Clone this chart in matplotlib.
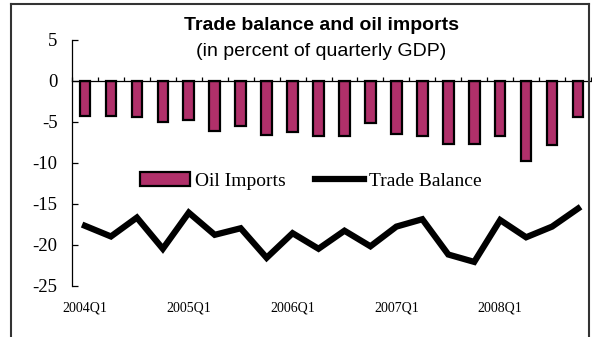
"""Trade balance and oil imports, quarterly, in percent of GDP."""

import matplotlib
matplotlib.use("Agg")
import matplotlib.pyplot as plt
import matplotlib.transforms as mtransforms
from matplotlib.lines import Line2D
import numpy as np

QUARTERS = [f"{y}Q{q}" for y in range(2004, 2009) for q in range(1, 5)]
OIL_IMPORTS = [-4.3, -4.3, -4.4, -5.0, -4.8, -6.2, -5.5, -6.6, -6.3, -6.8,
               -6.8, -5.2, -6.5, -6.7, -7.7, -7.7, -6.8, -9.8, -7.9, -4.5]
TRADE_BALANCE = [-17.7, -19.0, -16.7, -20.5, -16.1, -18.8, -18.0, -21.6, -18.6, -20.5,
                 -18.3, -20.2, -17.8, -16.9, -21.2, -22.1, -17.0, -19.1, -17.8, -15.6]
Y_TICKS = [5, 0, -5, -10, -15, -20, -25]

BAR_COLOR = "#B0306A"
SERIF = "Liberation Serif"
SANS = "Liberation Sans"

W, H = 592, 337
fig = plt.figure(figsize=(W / 100, H / 100), dpi=100)
ax = fig.add_axes([72 / W, 51.3 / H, 519 / W, 246.2 / H])

x = np.arange(len(QUARTERS))
bars = ax.bar(x, OIL_IMPORTS, width=0.41, color=BAR_COLOR, edgecolor="black",
              linewidth=1.6, label="Oil Imports", zorder=2)
line, = ax.plot(x, TRADE_BALANCE, color="black", lw=4.5, solid_joinstyle="miter",
                label="Trade Balance", zorder=3)

ax.set_xlim(-0.5, len(QUARTERS) - 0.5)
ax.set_ylim(-25, 5)

# spines: y axis on the left, category axis along zero
for side in ("top", "right"):
    ax.spines[side].set_visible(False)
ax.spines["bottom"].set_position(("data", 0))
ax.spines["bottom"].set_linewidth(0.9)
ax.spines["left"].set_linewidth(0.9)

ax.set_xticks(np.arange(-0.5, len(QUARTERS), 1))
ax.tick_params(axis="x", direction="in", length=3, width=0.9, labelbottom=False)
ax.set_yticks(Y_TICKS)
ax.set_yticklabels([str(v) for v in Y_TICKS], family=SERIF, fontsize=13.5)
ax.tick_params(axis="y", direction="in", length=4.5, width=0.9, pad=10.5)

# quarter labels sit below the plot, not on the zero line
trans = mtransforms.blended_transform_factory(ax.transData, fig.transFigure)
for i in range(0, len(QUARTERS), 4):
    ax.text(i, 1 - 307.7 / H, QUARTERS[i], transform=trans, ha="center",
            va="center", family=SERIF, fontsize=10)

fig.text(321 / W, 1 - 26 / H, "Trade balance and oil imports", family=SANS,
         fontweight="bold", fontsize=14, ha="center", va="center")
fig.text(321 / W, 1 - 52 / H, "(in percent of quarterly GDP)", family=SANS,
         fontsize=14, ha="center", va="center")

ax.legend([bars, line], ["Oil Imports", "Trade Balance"], loc="center",
          bbox_to_anchor=((311 - 72) / 519, (285.7 - 181) / 246.2),
          ncol=2, frameon=False, prop={"family": SERIF, "size": 14},
          handlelength=2.55, handletextpad=0.26, columnspacing=1.5, borderpad=0)

# outer frame
frame_kw = dict(transform=fig.transFigure, color="#333333", lw=1.5)
fig.add_artist(Line2D([11 / W, 11 / W], [0, 1 - 4 / H], **frame_kw))
fig.add_artist(Line2D([11 / W, 589 / W], [1 - 4 / H, 1 - 4 / H], **frame_kw))
fig.add_artist(Line2D([589 / W, 589 / W], [0, 1 - 4 / H], **frame_kw))

fig.savefig("out.png", dpi=100)
